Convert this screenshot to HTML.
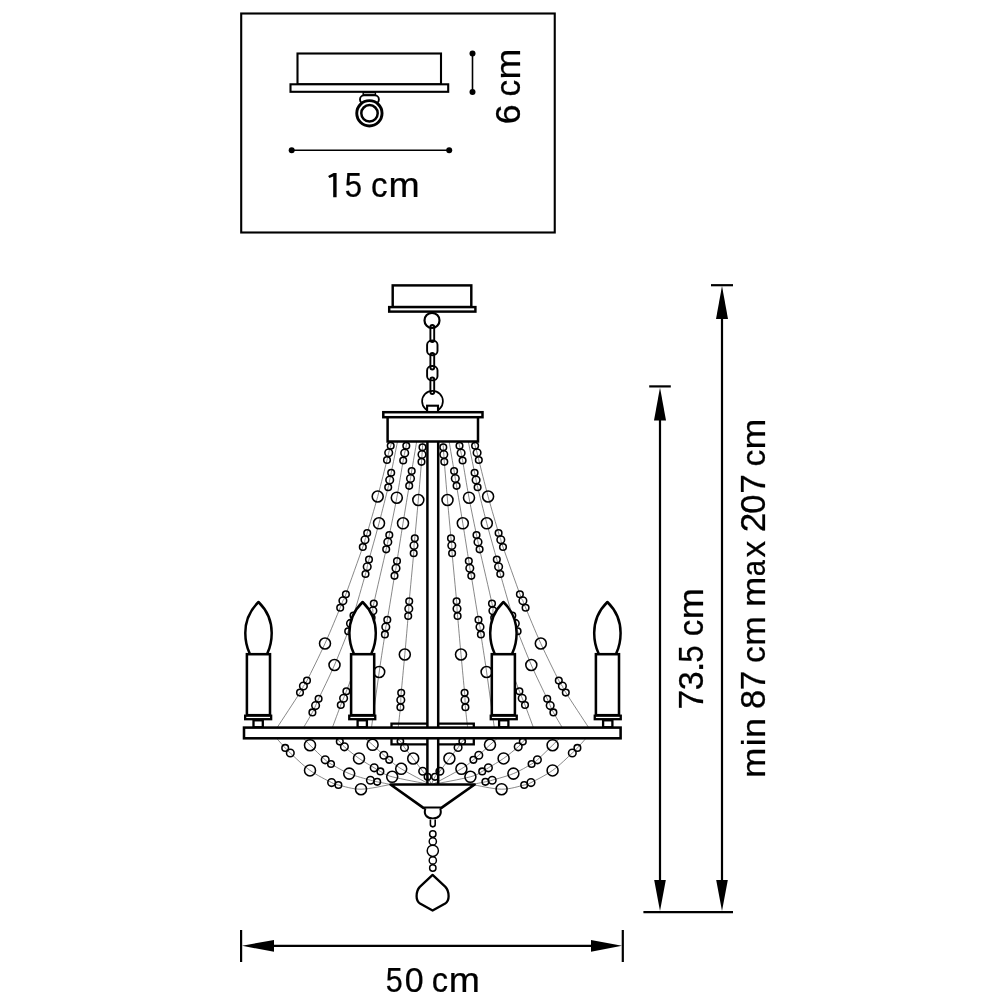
<!DOCTYPE html><html><head><meta charset="utf-8"><style>html,body{margin:0;padding:0;background:#fff;width:1000px;height:1000px;overflow:hidden}svg{display:block;filter:grayscale(1)}text{font-family:"Liberation Sans",sans-serif;fill:#000;stroke:#000;stroke-width:0.25px}</style></head><body>
<svg width="1000" height="1000" viewBox="0 0 1000 1000">
<rect width="1000" height="1000" fill="#fff"/>
<g fill="none" stroke="#000" stroke-width="2.1">
<rect x="241.2" y="13.5" width="313.55" height="219"/>
</g>
<g fill="#fff" stroke="#000" stroke-width="2.1">
<rect x="297.5" y="53.5" width="143.5" height="30.8"/>
<rect x="290.5" y="84.3" width="157.7" height="7.5"/>
</g>
<g fill="#fff" stroke="#000">
<rect x="363.2" y="92.6" width="12.2" height="2.2" stroke-width="1.4"/>
<rect x="360" y="95.4" width="18.9" height="8" rx="4" stroke-width="1.9"/>
<circle cx="369.4" cy="113.3" r="12.65" stroke-width="2.9"/>
<circle cx="369.5" cy="113.3" r="8.2" stroke-width="2.5"/>
</g>
<g stroke="#000" stroke-width="1.6"><line x1="472.5" y1="53.5" x2="472.5" y2="92"/></g>
<g fill="#000"><circle cx="472.5" cy="53.5" r="3"/><circle cx="472.5" cy="92" r="3"/></g>
<g stroke="#000" stroke-width="1.6"><line x1="291.7" y1="150.3" x2="449.2" y2="150.3"/></g>
<g fill="#000"><circle cx="291.7" cy="150.3" r="3"/><circle cx="449.2" cy="150.3" r="3"/></g>
<g fill="none" stroke="#555" stroke-width="0.7">
<path d="M391.7,442.0 C391.5,442.6 391.2,443.9 390.7,445.7 C390.2,447.5 389.3,450.4 388.7,452.8 C388.1,455.2 388.8,452.7 387.0,460.0 C385.2,467.3 381.0,484.3 377.7,496.5 C374.4,508.7 369.3,525.8 367.2,533.0 C365.1,540.2 365.7,537.4 365.0,539.7 C364.3,542.0 366.0,537.9 362.8,547.0 C359.6,556.1 349.2,585.2 345.9,594.2 C342.6,603.2 343.8,598.5 342.9,600.8 C341.9,603.0 343.2,600.6 340.2,607.7 C337.2,614.8 330.5,631.4 325.0,643.5 C319.5,655.6 310.6,673.5 307.0,680.6 C303.4,687.7 304.6,684.0 303.4,686.0 C302.2,688.0 304.4,685.7 300.0,692.6 C295.6,699.5 281.0,721.7 277.2,727.5"/>
<path d="M474.1,442.0 C474.3,442.6 474.6,443.9 475.1,445.7 C475.6,447.5 476.5,450.4 477.1,452.8 C477.7,455.2 477.0,452.7 478.8,460.0 C480.6,467.3 484.8,484.3 488.1,496.5 C491.4,508.7 496.5,525.8 498.6,533.0 C500.7,540.2 500.1,537.4 500.8,539.7 C501.5,542.0 499.8,537.9 503.0,547.0 C506.2,556.1 516.6,585.2 519.9,594.2 C523.2,603.2 522.0,598.5 522.9,600.8 C523.8,603.0 522.6,600.6 525.6,607.7 C528.6,614.8 535.3,631.4 540.8,643.5 C546.3,655.6 555.2,673.5 558.8,680.6 C562.4,687.7 561.2,684.0 562.4,686.0 C563.6,688.0 561.4,685.7 565.8,692.6 C570.2,699.5 584.8,721.7 588.6,727.5"/>
<path d="M397.4,442.0 C396.4,447.1 392.5,466.5 391.2,472.8 C389.9,479.1 390.2,477.6 389.7,480.0 C389.2,482.4 390.0,480.0 388.2,487.2 C386.4,494.4 382.2,511.2 379.0,523.3 C375.8,535.3 371.0,552.2 369.0,559.5 C367.0,566.8 367.8,564.4 367.2,566.8 C366.6,569.2 367.8,565.9 365.5,574.0 C363.2,582.1 356.0,607.3 353.5,615.5 C351.0,623.7 351.4,620.8 350.5,623.4 C349.6,626.0 350.9,624.3 348.2,631.2 C345.5,638.1 339.4,653.7 334.5,665.0 C329.6,676.3 321.8,692.0 318.6,698.8 C315.5,705.6 316.6,703.3 315.6,705.6 C314.6,707.9 314.4,708.8 312.4,712.4 C310.4,716.0 305.1,725.0 303.6,727.5"/>
<path d="M468.4,442.0 C469.4,447.1 473.3,466.5 474.6,472.8 C475.9,479.1 475.6,477.6 476.1,480.0 C476.6,482.4 475.8,480.0 477.6,487.2 C479.4,494.4 483.6,511.2 486.8,523.3 C490.0,535.3 494.8,552.2 496.8,559.5 C498.8,566.8 498.0,564.4 498.6,566.8 C499.2,569.2 498.0,565.9 500.3,574.0 C502.6,582.1 509.8,607.3 512.3,615.5 C514.8,623.7 514.4,620.8 515.3,623.4 C516.2,626.0 514.9,624.3 517.6,631.2 C520.3,638.1 526.4,653.7 531.3,665.0 C536.2,676.3 544.0,692.0 547.2,698.8 C550.3,705.6 549.2,703.3 550.2,705.6 C551.2,707.9 551.4,708.8 553.4,712.4 C555.4,716.0 560.7,725.0 562.2,727.5"/>
<path d="M407.0,442.0 C406.9,442.6 406.7,443.9 406.3,445.7 C405.9,447.5 405.2,450.5 404.7,453.0 C404.2,455.5 404.5,453.1 403.2,460.5 C401.9,467.9 399.1,485.3 396.8,497.7 C394.5,510.1 390.8,527.6 389.3,535.0 C387.8,542.4 388.3,539.6 387.8,542.0 C387.3,544.4 388.5,539.0 386.2,549.3 C383.9,559.5 376.0,593.3 373.8,603.5 C371.6,613.7 373.3,608.3 372.9,610.7 C372.5,613.1 373.8,610.4 371.6,617.8 C369.5,625.2 364.2,642.8 360.0,655.0 C355.8,667.2 349.1,684.0 346.4,691.2 C343.7,698.4 344.5,695.9 343.6,698.2 C342.7,700.5 342.7,700.1 340.8,705.0 C338.9,709.9 333.8,723.8 332.4,727.5"/>
<path d="M458.8,442.0 C458.9,442.6 459.1,443.9 459.5,445.7 C459.9,447.5 460.6,450.5 461.1,453.0 C461.6,455.5 461.3,453.1 462.6,460.5 C463.9,467.9 466.7,485.3 469.0,497.7 C471.3,510.1 475.0,527.6 476.5,535.0 C478.0,542.4 477.5,539.6 478.0,542.0 C478.5,544.4 477.3,539.0 479.6,549.3 C481.9,559.5 489.8,593.3 492.0,603.5 C494.2,613.7 492.5,608.3 492.9,610.7 C493.3,613.1 492.0,610.4 494.2,617.8 C496.3,625.2 501.6,642.8 505.8,655.0 C510.0,667.2 516.7,684.0 519.4,691.2 C522.1,698.4 521.3,695.9 522.2,698.2 C523.1,700.5 523.1,700.1 525.0,705.0 C526.9,709.9 532.0,723.8 533.4,727.5"/>
<path d="M416.6,442.0 C415.8,446.8 412.7,464.9 411.7,471.0 C410.7,477.1 410.9,476.0 410.5,478.5 C410.1,481.0 410.4,478.3 409.2,485.8 C407.9,493.3 405.0,510.8 403.0,523.3 C401.0,535.8 398.2,553.5 397.0,561.0 C395.8,568.5 396.4,565.8 396.0,568.3 C395.6,570.8 395.9,567.2 394.5,575.8 C393.1,584.4 388.8,611.2 387.3,619.7 C385.9,628.2 386.2,624.5 385.8,626.9 C385.4,629.3 386.0,626.9 384.9,634.4 C383.8,641.9 381.4,656.5 379.2,672.0 C377.0,687.5 372.8,718.2 371.5,727.5"/>
<path d="M449.2,442.0 C450.0,446.8 453.1,464.9 454.1,471.0 C455.1,477.1 454.9,476.0 455.3,478.5 C455.7,481.0 455.3,478.3 456.6,485.8 C457.8,493.3 460.8,510.8 462.8,523.3 C464.8,535.8 467.6,553.5 468.8,561.0 C470.0,568.5 469.4,565.8 469.8,568.3 C470.2,570.8 469.8,567.2 471.3,575.8 C472.7,584.4 477.0,611.2 478.5,619.7 C479.9,628.2 479.6,624.5 480.0,626.9 C480.4,629.3 479.8,626.9 480.9,634.4 C482.0,641.9 484.4,656.5 486.6,672.0 C488.8,687.5 493.0,718.2 494.3,727.5"/>
<path d="M422.9,442.0 C422.8,442.9 422.6,445.1 422.5,447.2 C422.4,449.3 422.2,452.1 422.0,454.5 C421.8,456.9 422.1,454.2 421.5,461.8 C420.9,469.4 419.4,487.3 418.3,500.0 C417.2,512.7 415.5,530.6 414.8,538.2 C414.1,545.8 414.2,543.0 414.0,545.5 C413.8,548.0 414.5,543.9 413.7,553.2 C412.9,562.5 410.0,592.0 409.2,601.2 C408.4,610.5 409.0,606.2 408.8,608.7 C408.6,611.2 408.9,608.4 408.2,616.0 C407.5,623.6 406.0,641.7 404.8,654.5 C403.6,667.3 401.9,685.2 401.2,692.8 C400.5,700.4 400.9,697.6 400.8,700.0 C400.7,702.4 400.8,702.6 400.4,707.2 C400.0,711.8 398.6,724.1 398.2,727.5"/>
<path d="M442.9,442.0 C443.0,442.9 443.1,445.1 443.3,447.2 C443.4,449.3 443.6,452.1 443.8,454.5 C444.0,456.9 443.7,454.2 444.3,461.8 C444.9,469.4 446.4,487.3 447.5,500.0 C448.6,512.7 450.3,530.6 451.0,538.2 C451.7,545.8 451.6,543.0 451.8,545.5 C452.0,548.0 451.3,543.9 452.1,553.2 C452.9,562.5 455.8,592.0 456.6,601.2 C457.4,610.5 456.8,606.2 457.0,608.7 C457.2,611.2 456.9,608.4 457.6,616.0 C458.3,623.6 459.8,641.7 461.0,654.5 C462.2,667.3 463.9,685.2 464.6,692.8 C465.3,700.4 464.9,697.6 465.0,700.0 C465.1,702.4 465.0,702.6 465.4,707.2 C465.8,711.8 467.2,724.1 467.6,727.5"/>
<path d="M277.4,739.2 C278.7,740.7 283.0,745.6 285.2,747.9 C287.4,750.2 286.2,749.2 290.3,753.0 C294.4,756.8 303.1,765.5 310.0,770.4 C316.9,775.3 326.9,780.2 331.6,782.6 C336.3,785.0 333.5,783.9 338.4,785.0 C343.3,786.1 352.3,789.3 361.0,789.2 C369.7,789.1 385.6,785.3 390.5,784.5"/>
<path d="M585.2,739.2 C583.9,740.7 579.6,745.6 577.4,747.9 C575.3,750.2 576.4,749.2 572.3,753.0 C568.2,756.8 559.5,765.5 552.6,770.4 C545.7,775.3 535.7,780.2 531.0,782.6 C526.3,785.0 529.1,783.9 524.2,785.0 C519.3,786.1 510.3,789.3 501.6,789.2 C492.9,789.1 477.0,785.3 472.1,784.5"/>
<path d="M304.0,739.2 C305.0,740.2 306.5,741.8 310.0,745.2 C313.5,748.6 321.7,756.7 325.2,759.8 C328.7,762.9 327.0,761.7 331.0,764.0 C335.0,766.3 342.6,770.9 349.2,773.6 C355.8,776.3 365.7,778.8 370.4,780.2 C375.1,781.6 373.8,781.1 377.2,781.8 C380.6,782.5 388.3,784.0 390.5,784.5"/>
<path d="M558.6,739.2 C557.6,740.2 556.1,741.8 552.6,745.2 C549.1,748.6 540.9,756.7 537.4,759.8 C533.9,762.9 535.6,761.7 531.6,764.0 C527.6,766.3 520.0,770.9 513.4,773.6 C506.8,776.3 496.9,778.8 492.2,780.2 C487.5,781.6 488.8,781.1 485.4,781.8 C482.1,782.5 474.3,784.0 472.1,784.5"/>
<path d="M336.0,739.2 C336.6,739.6 338.4,740.3 339.8,741.6 C341.2,742.9 341.2,744.0 344.4,746.8 C347.6,749.6 354.0,754.9 359.0,758.4 C364.0,761.9 370.6,765.6 374.2,767.8 C377.8,770.0 377.4,769.9 380.4,771.4 C383.4,772.9 383.9,774.6 392.2,776.8 C400.5,779.0 423.7,783.2 430.0,784.5"/>
<path d="M526.6,739.2 C526.0,739.6 524.2,740.3 522.8,741.6 C521.4,742.9 521.4,744.0 518.2,746.8 C515.0,749.6 508.6,754.9 503.6,758.4 C498.6,761.9 492.0,765.6 488.4,767.8 C484.8,770.0 485.2,769.9 482.2,771.4 C479.2,772.9 478.7,774.6 470.4,776.8 C462.1,779.0 438.9,783.2 432.6,784.5"/>
<path d="M366.0,739.2 C367.1,740.1 369.6,742.1 372.6,744.8 C375.6,747.5 381.0,752.7 383.8,755.2 C386.6,757.7 386.3,757.5 389.2,759.8 C392.1,762.1 394.4,764.7 401.2,768.8 C408.0,772.9 425.2,781.9 430.0,784.5"/>
<path d="M496.6,739.2 C495.5,740.1 493.0,742.1 490.0,744.8 C487.0,747.5 481.6,752.7 478.8,755.2 C476.0,757.7 476.3,757.5 473.4,759.8 C470.5,762.1 468.2,764.7 461.4,768.8 C454.6,772.9 437.4,781.9 432.6,784.5"/>
<path d="M397.0,739.2 C397.6,739.6 399.1,739.9 400.4,741.3 C401.6,742.7 402.4,744.6 404.5,747.5 C406.6,750.4 410.2,754.5 413.2,758.5 C416.2,762.5 420.3,768.2 422.7,771.2 C425.1,774.2 426.2,774.6 427.6,776.8 C429.0,779.0 430.7,783.2 431.3,784.5"/>
<path d="M465.6,739.2 C465.0,739.6 463.5,739.9 462.2,741.3 C461.0,742.7 460.2,744.6 458.1,747.5 C456.0,750.4 452.4,754.5 449.4,758.5 C446.4,762.5 442.3,768.2 439.9,771.2 C437.5,774.2 436.4,774.6 435.0,776.8 C433.6,779.0 431.9,783.2 431.3,784.5"/>
</g>
<g fill="none" stroke="#000" stroke-width="1.55">
<circle cx="390.7" cy="445.7" r="3.30"/>
<circle cx="475.1" cy="445.7" r="3.30"/>
<circle cx="388.7" cy="452.8" r="3.80"/>
<circle cx="477.1" cy="452.8" r="3.80"/>
<circle cx="387.0" cy="460.0" r="3.30"/>
<circle cx="478.8" cy="460.0" r="3.30"/>
<circle cx="377.7" cy="496.5" r="5.50"/>
<circle cx="488.1" cy="496.5" r="5.50"/>
<circle cx="367.2" cy="533.0" r="3.30"/>
<circle cx="498.6" cy="533.0" r="3.30"/>
<circle cx="365.0" cy="539.7" r="3.80"/>
<circle cx="500.8" cy="539.7" r="3.80"/>
<circle cx="362.8" cy="547.0" r="3.30"/>
<circle cx="503.0" cy="547.0" r="3.30"/>
<circle cx="345.9" cy="594.2" r="3.30"/>
<circle cx="519.9" cy="594.2" r="3.30"/>
<circle cx="342.9" cy="600.8" r="3.80"/>
<circle cx="522.9" cy="600.8" r="3.80"/>
<circle cx="340.2" cy="607.7" r="3.30"/>
<circle cx="525.6" cy="607.7" r="3.30"/>
<circle cx="325.0" cy="643.5" r="5.50"/>
<circle cx="540.8" cy="643.5" r="5.50"/>
<circle cx="307.0" cy="680.6" r="3.30"/>
<circle cx="558.8" cy="680.6" r="3.30"/>
<circle cx="303.4" cy="686.0" r="3.80"/>
<circle cx="562.4" cy="686.0" r="3.80"/>
<circle cx="300.0" cy="692.6" r="3.30"/>
<circle cx="565.8" cy="692.6" r="3.30"/>
<circle cx="391.2" cy="472.8" r="3.30"/>
<circle cx="474.6" cy="472.8" r="3.30"/>
<circle cx="389.7" cy="480.0" r="3.80"/>
<circle cx="476.1" cy="480.0" r="3.80"/>
<circle cx="388.2" cy="487.2" r="3.30"/>
<circle cx="477.6" cy="487.2" r="3.30"/>
<circle cx="379.0" cy="523.3" r="5.50"/>
<circle cx="486.8" cy="523.3" r="5.50"/>
<circle cx="369.0" cy="559.5" r="3.30"/>
<circle cx="496.8" cy="559.5" r="3.30"/>
<circle cx="367.2" cy="566.8" r="3.80"/>
<circle cx="498.6" cy="566.8" r="3.80"/>
<circle cx="365.5" cy="574.0" r="3.30"/>
<circle cx="500.3" cy="574.0" r="3.30"/>
<circle cx="353.5" cy="615.5" r="3.30"/>
<circle cx="512.3" cy="615.5" r="3.30"/>
<circle cx="350.5" cy="623.4" r="3.80"/>
<circle cx="515.3" cy="623.4" r="3.80"/>
<circle cx="348.2" cy="631.2" r="3.30"/>
<circle cx="517.6" cy="631.2" r="3.30"/>
<circle cx="334.5" cy="665.0" r="5.50"/>
<circle cx="531.3" cy="665.0" r="5.50"/>
<circle cx="318.6" cy="698.8" r="3.30"/>
<circle cx="547.2" cy="698.8" r="3.30"/>
<circle cx="315.6" cy="705.6" r="3.80"/>
<circle cx="550.2" cy="705.6" r="3.80"/>
<circle cx="312.4" cy="712.4" r="3.30"/>
<circle cx="553.4" cy="712.4" r="3.30"/>
<circle cx="406.3" cy="445.7" r="3.30"/>
<circle cx="459.5" cy="445.7" r="3.30"/>
<circle cx="404.7" cy="453.0" r="3.80"/>
<circle cx="461.1" cy="453.0" r="3.80"/>
<circle cx="403.2" cy="460.5" r="3.30"/>
<circle cx="462.6" cy="460.5" r="3.30"/>
<circle cx="396.8" cy="497.7" r="5.50"/>
<circle cx="469.0" cy="497.7" r="5.50"/>
<circle cx="389.3" cy="535.0" r="3.30"/>
<circle cx="476.5" cy="535.0" r="3.30"/>
<circle cx="387.8" cy="542.0" r="3.80"/>
<circle cx="478.0" cy="542.0" r="3.80"/>
<circle cx="386.2" cy="549.3" r="3.30"/>
<circle cx="479.6" cy="549.3" r="3.30"/>
<circle cx="373.8" cy="603.5" r="3.30"/>
<circle cx="492.0" cy="603.5" r="3.30"/>
<circle cx="372.9" cy="610.7" r="3.80"/>
<circle cx="492.9" cy="610.7" r="3.80"/>
<circle cx="371.6" cy="617.8" r="3.30"/>
<circle cx="494.2" cy="617.8" r="3.30"/>
<circle cx="360.0" cy="655.0" r="5.50"/>
<circle cx="505.8" cy="655.0" r="5.50"/>
<circle cx="346.4" cy="691.2" r="3.30"/>
<circle cx="519.4" cy="691.2" r="3.30"/>
<circle cx="343.6" cy="698.2" r="3.80"/>
<circle cx="522.2" cy="698.2" r="3.80"/>
<circle cx="340.8" cy="705.0" r="3.30"/>
<circle cx="525.0" cy="705.0" r="3.30"/>
<circle cx="411.7" cy="471.0" r="3.30"/>
<circle cx="454.1" cy="471.0" r="3.30"/>
<circle cx="410.5" cy="478.5" r="3.80"/>
<circle cx="455.3" cy="478.5" r="3.80"/>
<circle cx="409.2" cy="485.8" r="3.30"/>
<circle cx="456.6" cy="485.8" r="3.30"/>
<circle cx="403.0" cy="523.3" r="5.50"/>
<circle cx="462.8" cy="523.3" r="5.50"/>
<circle cx="397.0" cy="561.0" r="3.30"/>
<circle cx="468.8" cy="561.0" r="3.30"/>
<circle cx="396.0" cy="568.3" r="3.80"/>
<circle cx="469.8" cy="568.3" r="3.80"/>
<circle cx="394.5" cy="575.8" r="3.30"/>
<circle cx="471.3" cy="575.8" r="3.30"/>
<circle cx="387.3" cy="619.7" r="3.30"/>
<circle cx="478.5" cy="619.7" r="3.30"/>
<circle cx="385.8" cy="626.9" r="3.80"/>
<circle cx="480.0" cy="626.9" r="3.80"/>
<circle cx="384.9" cy="634.4" r="3.30"/>
<circle cx="480.9" cy="634.4" r="3.30"/>
<circle cx="379.2" cy="672.0" r="5.50"/>
<circle cx="486.6" cy="672.0" r="5.50"/>
<circle cx="422.5" cy="447.2" r="3.30"/>
<circle cx="443.3" cy="447.2" r="3.30"/>
<circle cx="422.0" cy="454.5" r="3.80"/>
<circle cx="443.8" cy="454.5" r="3.80"/>
<circle cx="421.5" cy="461.8" r="3.30"/>
<circle cx="444.3" cy="461.8" r="3.30"/>
<circle cx="418.3" cy="500.0" r="5.50"/>
<circle cx="447.5" cy="500.0" r="5.50"/>
<circle cx="414.8" cy="538.2" r="3.30"/>
<circle cx="451.0" cy="538.2" r="3.30"/>
<circle cx="414.0" cy="545.5" r="3.80"/>
<circle cx="451.8" cy="545.5" r="3.80"/>
<circle cx="413.7" cy="553.2" r="3.30"/>
<circle cx="452.1" cy="553.2" r="3.30"/>
<circle cx="409.2" cy="601.2" r="3.30"/>
<circle cx="456.6" cy="601.2" r="3.30"/>
<circle cx="408.8" cy="608.7" r="3.80"/>
<circle cx="457.0" cy="608.7" r="3.80"/>
<circle cx="408.2" cy="616.0" r="3.30"/>
<circle cx="457.6" cy="616.0" r="3.30"/>
<circle cx="404.8" cy="654.5" r="5.50"/>
<circle cx="461.0" cy="654.5" r="5.50"/>
<circle cx="401.2" cy="692.8" r="3.30"/>
<circle cx="464.6" cy="692.8" r="3.30"/>
<circle cx="400.8" cy="700.0" r="3.80"/>
<circle cx="465.0" cy="700.0" r="3.80"/>
<circle cx="400.4" cy="707.2" r="3.30"/>
<circle cx="465.4" cy="707.2" r="3.30"/>
<circle cx="285.2" cy="747.9" r="3.30"/>
<circle cx="577.4" cy="747.9" r="3.30"/>
<circle cx="290.3" cy="753.0" r="3.80"/>
<circle cx="572.3" cy="753.0" r="3.80"/>
<circle cx="310.0" cy="770.4" r="5.50"/>
<circle cx="552.6" cy="770.4" r="5.50"/>
<circle cx="331.6" cy="782.6" r="3.80"/>
<circle cx="531.0" cy="782.6" r="3.80"/>
<circle cx="338.4" cy="785.0" r="3.30"/>
<circle cx="524.2" cy="785.0" r="3.30"/>
<circle cx="361.0" cy="789.2" r="5.50"/>
<circle cx="501.6" cy="789.2" r="5.50"/>
<circle cx="310.0" cy="745.2" r="5.50"/>
<circle cx="552.6" cy="745.2" r="5.50"/>
<circle cx="325.2" cy="759.8" r="3.80"/>
<circle cx="537.4" cy="759.8" r="3.80"/>
<circle cx="331.0" cy="764.0" r="3.30"/>
<circle cx="531.6" cy="764.0" r="3.30"/>
<circle cx="349.2" cy="773.6" r="5.50"/>
<circle cx="513.4" cy="773.6" r="5.50"/>
<circle cx="370.4" cy="780.2" r="3.80"/>
<circle cx="492.2" cy="780.2" r="3.80"/>
<circle cx="377.2" cy="781.8" r="3.30"/>
<circle cx="485.4" cy="781.8" r="3.30"/>
<circle cx="339.8" cy="741.6" r="3.30"/>
<circle cx="522.8" cy="741.6" r="3.30"/>
<circle cx="344.4" cy="746.8" r="3.80"/>
<circle cx="518.2" cy="746.8" r="3.80"/>
<circle cx="359.0" cy="758.4" r="5.50"/>
<circle cx="503.6" cy="758.4" r="5.50"/>
<circle cx="374.2" cy="767.8" r="3.80"/>
<circle cx="488.4" cy="767.8" r="3.80"/>
<circle cx="380.4" cy="771.4" r="3.30"/>
<circle cx="482.2" cy="771.4" r="3.30"/>
<circle cx="392.2" cy="776.8" r="5.50"/>
<circle cx="470.4" cy="776.8" r="5.50"/>
<circle cx="372.6" cy="744.8" r="5.50"/>
<circle cx="490.0" cy="744.8" r="5.50"/>
<circle cx="383.8" cy="755.2" r="3.80"/>
<circle cx="478.8" cy="755.2" r="3.80"/>
<circle cx="389.2" cy="759.8" r="3.30"/>
<circle cx="473.4" cy="759.8" r="3.30"/>
<circle cx="401.2" cy="768.8" r="5.50"/>
<circle cx="461.4" cy="768.8" r="5.50"/>
<circle cx="400.4" cy="741.3" r="3.13"/>
<circle cx="462.2" cy="741.3" r="3.13"/>
<circle cx="404.5" cy="747.5" r="3.80"/>
<circle cx="458.1" cy="747.5" r="3.80"/>
<circle cx="413.2" cy="758.5" r="5.50"/>
<circle cx="449.4" cy="758.5" r="5.50"/>
<circle cx="422.7" cy="771.2" r="3.80"/>
<circle cx="439.9" cy="771.2" r="3.80"/>
<circle cx="427.6" cy="776.8" r="3.30"/>
<circle cx="435.0" cy="776.8" r="3.30"/>
</g>
<g fill="#fff" stroke="#000" stroke-width="2.45">
<rect x="392.7" y="285.4" width="78.6" height="21.7"/>
<rect x="389.2" y="307.1" width="86.2" height="4.5" stroke-width="2.45"/>
</g>
<g fill="none" stroke="#000" stroke-width="1.9">
<circle cx="432.0" cy="320.4" r="7.5" stroke-width="2.2"/>
<rect x="430.4" y="325" width="3.8" height="17" rx="1.9"/>
<rect x="427.1" y="340.5" width="10.4" height="14.7" rx="5.2" ry="4.2"/>
<rect x="430.4" y="353" width="3.8" height="16.5" rx="1.9"/>
<rect x="427.1" y="366.0" width="10.4" height="14.4" rx="5.2" ry="4.2"/>
<rect x="430.4" y="377.5" width="3.8" height="16.5" rx="1.9"/>
<circle cx="432.5" cy="401.2" r="10.4" stroke-width="1.7"/>
</g>
<g fill="#fff" stroke="#000" stroke-width="1.9">
<rect x="427.1" y="405.7" width="10.9" height="6.5" stroke-width="2.1"/>
</g>
<g fill="#fff" stroke="#000" stroke-width="2.5">
<rect x="383.3" y="412.2" width="99.2" height="5.0" stroke-width="2.5"/>
</g>
<g fill="none" stroke="#000" stroke-width="2.5">
<path d="M387.6,417.2 V441.5 H478 V417.2"/>
</g>
<g stroke="#000" stroke-width="2.5">
<line x1="427.4" y1="441" x2="427.4" y2="785"/>
<line x1="438.2" y1="441" x2="438.2" y2="785"/>
</g>
<path d="M249.7,653.5 C246.6,647 245.3,640 245.3,633 C245.3,622 249.8,610.5 258.5,602.0 C267.2,610.5 271.7,622 271.7,633 C271.7,640 270.4,647 267.3,653.5" fill="#fff" stroke="#000" stroke-width="2.5" stroke-linejoin="round"/>
<rect x="246.9" y="654.2" width="23.1" height="61" fill="#fff" stroke="#000" stroke-width="2.55"/>
<rect x="245.15" y="715.7" width="26.0" height="3.5" fill="#fff" stroke="#000" stroke-width="2.3"/>
<rect x="253.50" y="720.3" width="9.3" height="7" fill="#fff" stroke="#000" stroke-width="2.3"/>
<path d="M353.8,653.5 C350.7,647 349.4,640 349.4,633 C349.4,622 353.9,610.5 362.6,602.0 C371.3,610.5 375.8,622 375.8,633 C375.8,640 374.5,647 371.4,653.5" fill="#fff" stroke="#000" stroke-width="2.5" stroke-linejoin="round"/>
<rect x="351.1" y="654.2" width="23.1" height="61" fill="#fff" stroke="#000" stroke-width="2.55"/>
<rect x="349.25" y="715.7" width="26.0" height="3.5" fill="#fff" stroke="#000" stroke-width="2.3"/>
<rect x="357.60" y="720.3" width="9.3" height="7" fill="#fff" stroke="#000" stroke-width="2.3"/>
<path d="M494.6,653.5 C491.5,647 490.2,640 490.2,633 C490.2,622 494.7,610.5 503.4,602.0 C512.1,610.5 516.6,622 516.6,633 C516.6,640 515.3,647 512.2,653.5" fill="#fff" stroke="#000" stroke-width="2.5" stroke-linejoin="round"/>
<rect x="491.8" y="654.2" width="23.1" height="61" fill="#fff" stroke="#000" stroke-width="2.55"/>
<rect x="490.75" y="715.7" width="26.0" height="3.5" fill="#fff" stroke="#000" stroke-width="2.3"/>
<rect x="499.10" y="720.3" width="9.3" height="7" fill="#fff" stroke="#000" stroke-width="2.3"/>
<path d="M598.6,653.5 C595.5,647 594.2,640 594.2,633 C594.2,622 598.7,610.5 607.4,602.0 C616.1,610.5 620.6,622 620.6,633 C620.6,640 619.3,647 616.2,653.5" fill="#fff" stroke="#000" stroke-width="2.5" stroke-linejoin="round"/>
<rect x="595.9" y="654.2" width="23.1" height="61" fill="#fff" stroke="#000" stroke-width="2.55"/>
<rect x="594.75" y="715.7" width="26.0" height="3.5" fill="#fff" stroke="#000" stroke-width="2.3"/>
<rect x="603.10" y="720.3" width="9.3" height="7" fill="#fff" stroke="#000" stroke-width="2.3"/>
<g fill="#fff" stroke="#000" stroke-width="2.1">
<path d="M391.5,727.4 V723.6 H427.4 M438.2,723.6 H473.8 V727.4" fill="none" stroke-width="2.3"/>
<rect x="244" y="727.6" width="376.6" height="10.7" stroke-width="2.55"/>
<path d="M391.5,738.2 V744.4 H427.4 M438.2,744.4 H473.8 V738.2" fill="none" stroke-width="2.3"/>
</g>
<g fill="none" stroke="#000" stroke-width="1.3">
</g>
<g fill="#fff" stroke="#000" stroke-width="2.7" stroke-linejoin="round">
<path d="M390.5,784.5 H474.6 L441.4,807.8 H423.4 Z"/>
</g>
<g fill="#fff" stroke="#000" stroke-width="2.0">
<path d="M425.4,808.5 C424.6,811 424.4,813.5 426,815.6 C427.6,817.6 430,818.4 432.8,818.4 C435.6,818.4 438,817.6 439.6,815.6 C441.2,813.5 441,811 440.2,808.5"/>
<path d="M430.4,819.6 V824.6 C430.4,827.6 435.2,827.6 435.2,824.6 V819.6" stroke-width="1.6"/>
</g>
<g fill="none" stroke="#000" stroke-width="1.45">
<circle cx="432.8" cy="834" r="3.2"/>
<circle cx="432.8" cy="841.4" r="3.6"/>
<circle cx="432.8" cy="850.8" r="5.6"/>
<circle cx="432.8" cy="860.4" r="3.6"/>
<circle cx="432.8" cy="868.0" r="3.2"/>
</g>
<path d="M432.6,874.9 L445.4,886.9 C447.6,889.2 448.6,892.6 448.6,896.3 C448.6,899.6 447.4,902.2 445.2,903.6 L432.6,910.6 L420.0,903.6 C417.8,902.2 416.6,899.6 416.6,896.3 C416.6,892.6 417.6,889.2 419.8,886.9 Z" fill="#fff" stroke="#000" stroke-width="2.3" stroke-linejoin="round"/>
<g stroke="#000" stroke-width="2.2">
<line x1="711" y1="285.2" x2="733" y2="285.2"/>
<line x1="722.0" y1="300" x2="722.0" y2="895"/>
<line x1="649.2" y1="386.4" x2="670.8" y2="386.4"/>
<line x1="660.0" y1="400" x2="660.0" y2="895"/>
<line x1="643.4" y1="912.2" x2="733" y2="912.2"/>
<line x1="241.1" y1="930" x2="241.1" y2="962"/>
<line x1="622.8" y1="930" x2="622.8" y2="962"/>
<line x1="260" y1="945.8" x2="605" y2="945.8"/>
</g>
<path d="M722.0,286.0 L716.0,319.0 L728.0,319.0 Z" fill="#000"/>
<path d="M660.0,387.5 L654.0,420.5 L666.0,420.5 Z" fill="#000"/>
<path d="M722.0,911.0 L716.2,880.0 L727.8,880.0 Z" fill="#000"/>
<path d="M660.0,911.0 L654.2,880.0 L665.8,880.0 Z" fill="#000"/>
<path d="M242,945.8 L274,939.9 L274,951.7 Z" fill="#000"/>
<path d="M622,945.8 L591,939.9 L591,951.7 Z" fill="#000"/>
<path d="M333.2,197.3 L333.2,176.4 L329.4,178.1 L328.1,175.9 L333.6,173.1 L336.6,173.1 L336.6,197.3 Z" fill="#000"/>
<text font-size="35.30" transform="translate(344.75,197.20) scale(0.8813,1.0000)">5</text>
<text font-size="35.30" transform="translate(370.99,197.20) scale(0.9396,0.9740)">c</text>
<text font-size="35.30" transform="translate(388.42,197.20) scale(1.0593,0.9740)">m</text>
<text font-size="35.80" transform="translate(385.78,991.90) scale(0.8543,1.0000)">5</text>
<text font-size="35.80" transform="translate(404.67,991.90) scale(0.9495,1.0000)">0</text>
<text font-size="35.80" transform="translate(431.71,991.90) scale(0.9135,0.9900)">c</text>
<text font-size="35.80" transform="translate(448.72,991.90) scale(1.0445,0.9900)">m</text>
<text font-size="35.50" transform="translate(520.00,124.32) rotate(-90) scale(1.0073,1.0000)">6</text>
<text font-size="35.50" transform="translate(520.00,96.42) rotate(-90) scale(0.9408,0.9840)">c</text>
<text font-size="35.50" transform="translate(520.00,79.46) rotate(-90) scale(1.0453,0.9840)">m</text>
<text font-size="35.30" transform="translate(702.80,709.53) rotate(-90) scale(1.0095,1.0000)">7</text>
<text font-size="35.30" transform="translate(702.80,690.30) rotate(-90) scale(0.9679,1.0000)">3</text>
<text font-size="35.30" transform="translate(702.80,672.64) rotate(-90) scale(1.1901,1.0000)">.</text>
<text font-size="35.30" transform="translate(702.80,662.85) rotate(-90) scale(0.8843,1.0000)">5</text>
<text font-size="35.30" transform="translate(702.80,636.31) rotate(-90) scale(0.9396,0.9840)">c</text>
<text font-size="35.30" transform="translate(702.80,619.18) rotate(-90) scale(1.0593,0.9840)">m</text>
<text font-size="35.00" transform="translate(764.50,777.93) rotate(-90) scale(1.0439,0.9690)">m</text>
<text font-size="35.00" transform="translate(764.50,746.36) rotate(-90) scale(1.0077,0.9690)">i</text>
<text font-size="35.00" transform="translate(764.50,737.89) rotate(-90) scale(1.0290,0.9690)">n</text>
<text font-size="35.00" transform="translate(764.50,709.10) rotate(-90) scale(0.9864,1.0000)">8</text>
<text font-size="35.00" transform="translate(764.50,690.30) rotate(-90) scale(1.0056,1.0000)">7</text>
<text font-size="35.00" transform="translate(764.50,662.93) rotate(-90) scale(0.9609,0.9690)">c</text>
<text font-size="35.00" transform="translate(764.50,645.87) rotate(-90) scale(1.0194,0.9690)">m</text>
<text font-size="35.00" transform="translate(764.50,606.92) rotate(-90) scale(1.0398,0.9690)">m</text>
<text font-size="35.00" transform="translate(764.50,576.24) rotate(-90) scale(0.8343,0.9690)">a</text>
<text font-size="35.00" transform="translate(764.50,557.38) rotate(-90) scale(0.9563,0.9690)">x</text>
<text font-size="35.00" transform="translate(764.50,532.27) rotate(-90) scale(1.0035,1.0000)">2</text>
<text font-size="35.00" transform="translate(764.50,513.85) rotate(-90) scale(0.9862,1.0000)">0</text>
<text font-size="35.00" transform="translate(764.50,493.80) rotate(-90) scale(1.0056,1.0000)">7</text>
<text font-size="35.00" transform="translate(764.50,466.43) rotate(-90) scale(0.9609,0.9690)">c</text>
<text font-size="35.00" transform="translate(764.50,449.46) rotate(-90) scale(1.0602,0.9690)">m</text>
</svg></body></html>
